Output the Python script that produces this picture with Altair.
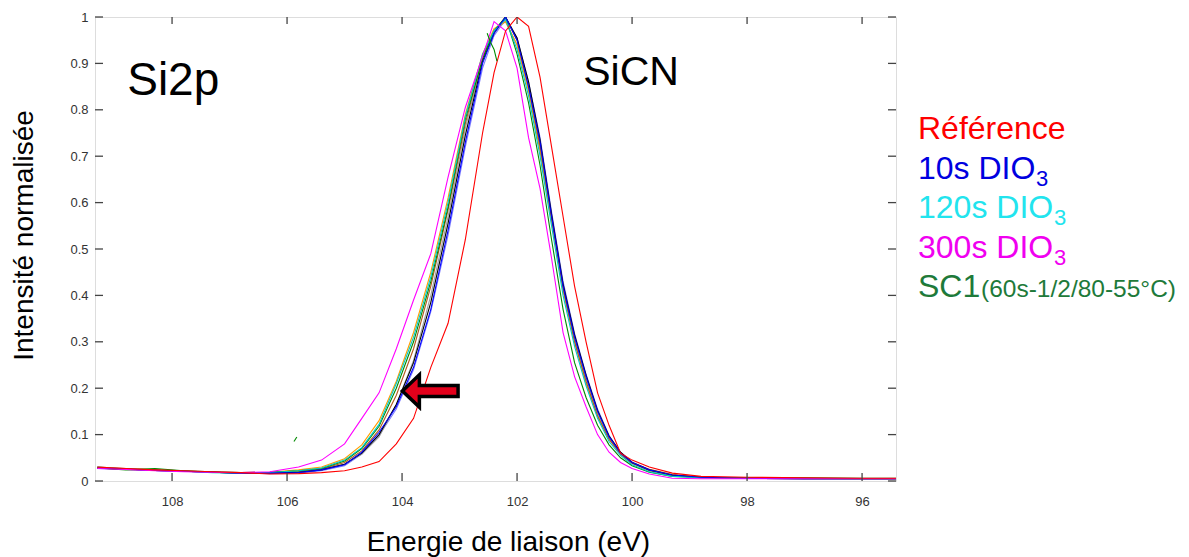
import altair as alt
import pandas as pd

# ---------------- data ----------------
energy = [109.3, 108.8, 108.3, 107.8, 107.3, 106.8, 106.3, 105.8, 105.4, 105.0,
          104.7, 104.4, 104.1, 103.8, 103.5, 103.2, 102.9, 102.6, 102.4, 102.2,
          102.0, 101.8, 101.6, 101.4, 101.2, 101.0, 100.8, 100.6, 100.4, 100.2,
          100.0, 99.7, 99.3, 98.8, 98.0, 97.0, 96.0, 95.4]

reference = [0.030, 0.027, 0.024, 0.022, 0.020, 0.018, 0.015, 0.016, 0.018, 0.022,
             0.030, 0.042, 0.080, 0.135, 0.245, 0.340, 0.520, 0.750, 0.880, 0.970,
             1.000, 0.980, 0.870, 0.720, 0.570, 0.420, 0.300, 0.190, 0.120, 0.060,
             0.045, 0.030, 0.017, 0.010, 0.008, 0.007, 0.006, 0.006]

dio10 = [0.028, 0.026, 0.023, 0.021, 0.019, 0.017, 0.017, 0.018, 0.024, 0.035,
         0.062, 0.105, 0.160, 0.245, 0.370, 0.540, 0.730, 0.900, 0.965, 1.000,
         0.950, 0.850, 0.730, 0.570, 0.420, 0.310, 0.225, 0.150, 0.095, 0.060,
         0.040, 0.024, 0.013, 0.008, 0.006, 0.005, 0.005, 0.005]

dio120 = [0.030, 0.026, 0.023, 0.021, 0.018, 0.017, 0.018, 0.022, 0.028, 0.045,
          0.072, 0.122, 0.210, 0.310, 0.440, 0.600, 0.785, 0.920, 0.970, 0.995,
          0.930, 0.830, 0.700, 0.550, 0.400, 0.290, 0.205, 0.135, 0.085, 0.055,
          0.035, 0.020, 0.010, 0.007, 0.006, 0.005, 0.005, 0.005]

dio300 = [0.027, 0.025, 0.022, 0.020, 0.019, 0.018, 0.020, 0.030, 0.045, 0.080,
          0.135, 0.190, 0.285, 0.390, 0.490, 0.655, 0.805, 0.915, 0.990, 0.970,
          0.890, 0.740, 0.630, 0.480, 0.320, 0.225, 0.160, 0.100, 0.062, 0.040,
          0.027, 0.015, 0.006, 0.005, 0.005, 0.005, 0.005, 0.005]

sc1 = [0.028, 0.024, 0.027, 0.022, 0.020, 0.018, 0.019, 0.022, 0.027, 0.043,
       0.070, 0.118, 0.200, 0.300, 0.430, 0.590, 0.780, 0.910, 0.970, 1.000,
       0.920, 0.815, 0.680, 0.520, 0.370, 0.255, 0.180, 0.120, 0.078, 0.050,
       0.033, 0.019, 0.010, 0.008, 0.007, 0.007, 0.006, 0.006]

extra_orange = [0.028, 0.026, 0.024, 0.021, 0.019, 0.018, 0.019, 0.024, 0.030, 0.048,
                0.078, 0.130, 0.215, 0.320, 0.450, 0.610, 0.790, 0.920, 0.975, 0.990,
                0.940, 0.840, 0.710, 0.560, 0.410, 0.300, 0.210, 0.140, 0.090, 0.060,
                0.040, 0.025, 0.014, 0.008, 0.006, 0.006, 0.005, 0.005]

extra_brown = [0.030, 0.027, 0.024, 0.022, 0.019, 0.017, 0.018, 0.021, 0.026, 0.040,
               0.065, 0.110, 0.185, 0.285, 0.420, 0.585, 0.770, 0.915, 0.970, 1.000,
               0.950, 0.850, 0.720, 0.565, 0.415, 0.300, 0.215, 0.140, 0.090, 0.058,
               0.038, 0.022, 0.012, 0.007, 0.006, 0.005, 0.005, 0.005]

extra_gray = [0.029, 0.026, 0.023, 0.021, 0.019, 0.017, 0.018, 0.020, 0.025, 0.036,
              0.058, 0.095, 0.165, 0.260, 0.400, 0.570, 0.760, 0.910, 0.970, 0.990,
              0.940, 0.845, 0.720, 0.565, 0.415, 0.305, 0.220, 0.145, 0.092, 0.058,
              0.038, 0.023, 0.012, 0.007, 0.006, 0.005, 0.005, 0.005]

extra_black = [0.028, 0.025, 0.023, 0.021, 0.019, 0.017, 0.017, 0.019, 0.024, 0.036,
               0.060, 0.100, 0.165, 0.255, 0.385, 0.555, 0.745, 0.905, 0.965, 1.000,
               0.955, 0.860, 0.735, 0.575, 0.425, 0.315, 0.228, 0.152, 0.097, 0.062,
               0.040, 0.024, 0.013, 0.008, 0.006, 0.005, 0.005, 0.005]

extra_periwinkle = [0.027, 0.025, 0.023, 0.021, 0.019, 0.017, 0.016, 0.017, 0.022, 0.033,
                    0.058, 0.098, 0.155, 0.240, 0.365, 0.530, 0.720, 0.890, 0.960, 0.995,
                    0.955, 0.860, 0.740, 0.580, 0.430, 0.318, 0.230, 0.155, 0.098, 0.062,
                    0.041, 0.025, 0.014, 0.008, 0.006, 0.005, 0.005, 0.005]

# stray green pieces of the SC1 trace
sc1_bit1_energy = [105.88, 105.83]
sc1_bit1_int = [0.085, 0.095]
sc1_bit2_energy = [102.52, 102.46, 102.40, 102.35]
sc1_bit2_int = [0.965, 0.945, 0.930, 0.905]

series_names = ["periwinkle", "gray", "orange", "brown", "black",
                "SC1", "120s DIO3", "10s DIO3", "300s DIO3", "Référence"]
series_values = [extra_periwinkle, extra_gray, extra_orange, extra_brown, extra_black,
                 sc1, dio120, dio10, dio300, reference]
series_colors = ["#7b7bff", "#a0a0a0", "#ff9d00", "#b05a1e", "#000000",
                 "#008a00", "#00c8c8", "#0000ff", "#ff00ff", "#ff0000"]

x_ticks = [96, 98, 100, 102, 104, 106, 108]
y_ticks = [0, 0.1, 0.2, 0.3, 0.4, 0.5, 0.6, 0.7, 0.8, 0.9, 1.0]

legend_labels = ["Référence", "10s DIO", "120s DIO", "300s DIO", "SC1"]
legend_colors = ["#ff0000", "#0000e0", "#22e4ee", "#f000f0", "#1e7a3a"]
subscript_text = "3"
sc1_suffix = "(60s-1/2/80-55°C)"

peak_labels = ["Si2p", "SiCN"]
peak_label_E = [108.78, 100.85]
peak_label_I = [0.832, 0.853]

arrow_E = [103.51]
arrow_I = [0.194]

# ---------------- tables ----------------
rows = []
for name, vals in zip(series_names, series_values):
    for e, v in zip(energy, vals):
        rows.append({"series": name, "seg": name, "E": e, "I": v})
for e, v in zip(sc1_bit1_energy, sc1_bit1_int):
    rows.append({"series": "SC1", "seg": "SC1_b1", "E": e, "I": v})
for e, v in zip(sc1_bit2_energy, sc1_bit2_int):
    rows.append({"series": "SC1", "seg": "SC1_b2", "E": e, "I": v})
lines_df = pd.DataFrame(rows)

W, H = 801, 464
FONT = "Liberation Sans"

xscale = alt.Scale(domain=[95.41, 109.34], reverse=True, nice=False, zero=False)
yscale = alt.Scale(domain=[0, 1], nice=False, zero=False)

x_axis = alt.Axis(values=x_ticks, format="d", ticks=False, domain=False, grid=False,
                  labelFontSize=13, labelColor="#333333", labelPadding=14, labelFont=FONT,
                  title="Energie de liaison (eV)", titleFontSize=28, titleFontWeight="normal",
                  titleColor="#000000", titleFont=FONT, titleX=413, titleY=69,
                  titleAlign="center", titleBaseline="alphabetic")
y_axis = alt.Axis(values=y_ticks, format="~g", ticks=False, domain=False, grid=False,
                  labelFontSize=13, labelColor="#333333", labelPadding=7, labelFont=FONT,
                  title="Intensité normalisée", titleFontSize=28, titleFontWeight="normal",
                  titleColor="#000000", titleFont=FONT, titleX=-63, titleY=218,
                  titleAngle=270, titleAlign="center", titleBaseline="alphabetic")


def X(field="E:Q"):
    return alt.X(field, scale=xscale, axis=x_axis)


def Y(field="I:Q"):
    return alt.Y(field, scale=yscale, axis=y_axis)


lines = alt.Chart(lines_df).mark_line(strokeWidth=1.1, clip=True).encode(
    x=X(), y=Y(),
    color=alt.Color("series:N", scale=alt.Scale(domain=series_names, range=series_colors),
                    legend=None),
    detail="seg:N",
    order=alt.Order("E:Q", sort="descending"),
)

xt_df = pd.DataFrame({"E": x_ticks})
yt_df = pd.DataFrame({"I": y_ticks})
tick_color = "#444444"
xt_bottom = alt.Chart(xt_df).mark_rule(color=tick_color, strokeWidth=1.3).encode(
    x=X(), y=alt.value(H), y2=alt.value(H - 8))
xt_top = alt.Chart(xt_df).mark_rule(color=tick_color, strokeWidth=1.3).encode(
    x=X(), y=alt.value(0), y2=alt.value(7))
yt_left = alt.Chart(yt_df).mark_rule(color=tick_color, strokeWidth=1.3).encode(
    y=Y(), x=alt.value(0), x2=alt.value(8))
yt_right = alt.Chart(yt_df).mark_rule(color=tick_color, strokeWidth=1.3).encode(
    y=Y(), x=alt.value(W), x2=alt.value(W - 8))

peak_layers = []
for lab, e, i, fs in zip(peak_labels, peak_label_E, peak_label_I, [46, 41]):
    peak_layers.append(
        alt.Chart(pd.DataFrame({"label": [lab], "E": [e], "I": [i]})).mark_text(
            align="left", baseline="alphabetic", font=FONT, fontSize=fs, color="#000000"
        ).encode(x=X(), y=Y(), text="label:N")
    )

arrow_path = ("M -1 0 L -0.39 -0.58 L -0.39 -0.2 L 1 -0.2 L 1 0.2 "
              "L -0.39 0.2 L -0.39 0.58 Z")
arrow = alt.Chart(pd.DataFrame({"E": arrow_E, "I": arrow_I})).mark_point(
    shape=arrow_path, filled=True, fill="#e3001b", stroke="#000000", strokeWidth=3.5,
    size=3100, opacity=1).encode(x=X(), y=Y())

# legend drawn as text; layout positions in pixels relative to the plot area
LX = 823
LY0 = 122
LSTEP = 39.5
main_w = {"10s DIO": 117, "120s DIO": 135, "300s DIO": 135}
legend_layers = []
for i, (lab, col) in enumerate(zip(legend_labels, legend_colors)):
    py = LY0 + LSTEP * i
    legend_layers.append(
        alt.Chart(pd.DataFrame({"t": [lab]})).mark_text(
            align="left", baseline="alphabetic", font=FONT, fontSize=32, color=col
        ).encode(text="t:N", x=alt.value(LX), y=alt.value(py))
    )
    if lab in main_w:
        legend_layers.append(
            alt.Chart(pd.DataFrame({"t": [subscript_text]})).mark_text(
                align="left", baseline="alphabetic", font=FONT, fontSize=22, color=col
            ).encode(text="t:N", x=alt.value(LX + main_w[lab] + 1), y=alt.value(py + 7))
        )
    if lab == "SC1":
        legend_layers.append(
            alt.Chart(pd.DataFrame({"t": [sc1_suffix]})).mark_text(
                align="left", baseline="alphabetic", font=FONT, fontSize=24.5, color=col
            ).encode(text="t:N", x=alt.value(LX + 63), y=alt.value(py))
        )

chart = alt.layer(
    lines, xt_bottom, xt_top, yt_left, yt_right, *peak_layers, arrow, *legend_layers
).properties(
    width=W, height=H,
    autosize=alt.AutoSizeParams(type="none"),
    padding={"left": 87, "top": 9, "right": 285, "bottom": 76},
).configure_view(stroke="#4a4a4a", strokeWidth=1.5).configure(font=FONT, background="white")

chart.save("out.html", embed_options={"renderer": "svg", "actions": False})
